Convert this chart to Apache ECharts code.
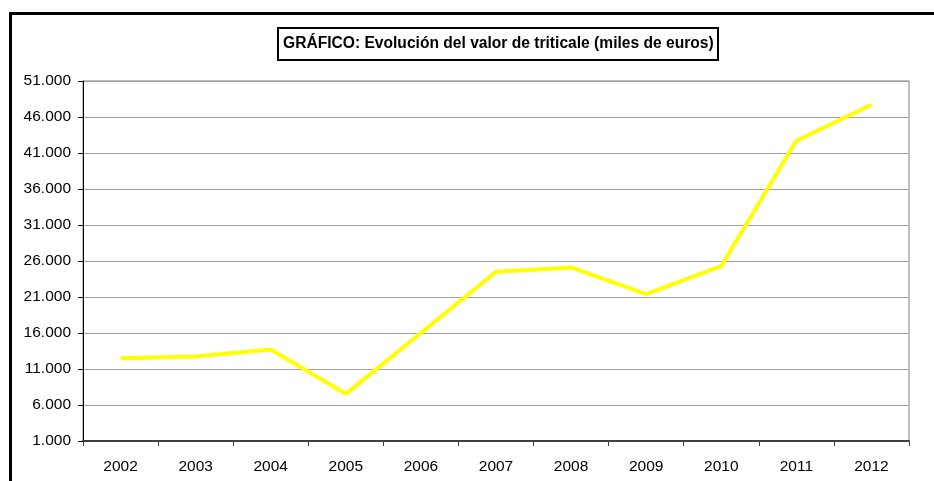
<!DOCTYPE html>
<html>
<head>
<meta charset="utf-8">
<script src="https://cdn.jsdelivr.net/npm/echarts@6/dist/echarts.min.js"></script>
<style>
html,body{margin:0;padding:0;background:#fff;}
#chart{width:934px;height:481px;}
</style>
</head>
<body>
<div id="chart"></div>
<script>
const years = ['2002','2003','2004','2005','2006','2007','2008','2009','2010','2011','2012'];
const valores = [12500, 12750, 13700, 7550, 16000, 24500, 25100, 21400, 25300, 42700, 47700];
const titulo = 'GRÁFICO: Evolución del valor de triticale (miles de euros)';

function fmt(v){
  return String(Math.round(v)).replace(/\B(?=(\d{3})+(?!\d))/g, '.');
}

const chart = echarts.init(document.getElementById('chart'), null, {renderer:'canvas'});
chart.setOption({
  animation:false,
  backgroundColor:'#fff',
  textStyle:{fontFamily:'Liberation Sans, Arial, sans-serif'},
  title:{
    text:titulo,
    left:278, top:28,
    borderWidth:2, borderColor:'#000',
    padding:[8,5,8,5],
    textStyle:{fontSize:15.6, fontWeight:'bold', color:'#000', fontFamily:'Liberation Sans, Arial, sans-serif'}
  },
  graphic:[{
    type:'rect', left:8, top:11,
    shape:{width:1000, height:1000},
    style:{fill:null, stroke:'#000', lineWidth:3},
    silent:true
  }],
  grid:{left:83, right:25, top:81, bottom:40, show:true, borderColor:'#808080', borderWidth:1},
  xAxis:{
    type:'category', data:years, boundaryGap:true,
    axisLine:{lineStyle:{color:'#404040', width:2}},
    axisTick:{show:true, length:5, lineStyle:{color:'#404040'}},
    axisLabel:{color:'#000', fontSize:15.5, margin:18}
  },
  yAxis:{
    type:'value', min:1000, max:51000, interval:5000,
    axisLine:{show:true, lineStyle:{color:'#000', width:1}},
    axisTick:{show:true, length:5, lineStyle:{color:'#000'}},
    axisLabel:{color:'#000', fontSize:15.5, margin:12, formatter:fmt},
    splitLine:{lineStyle:{color:'#a0a0a0', width:1}}
  },
  series:[{
    type:'line', data:valores, showSymbol:false, symbol:'none',
    lineStyle:{color:'#ffff00', width:4}
  }]
});
</script>
</body>
</html>
